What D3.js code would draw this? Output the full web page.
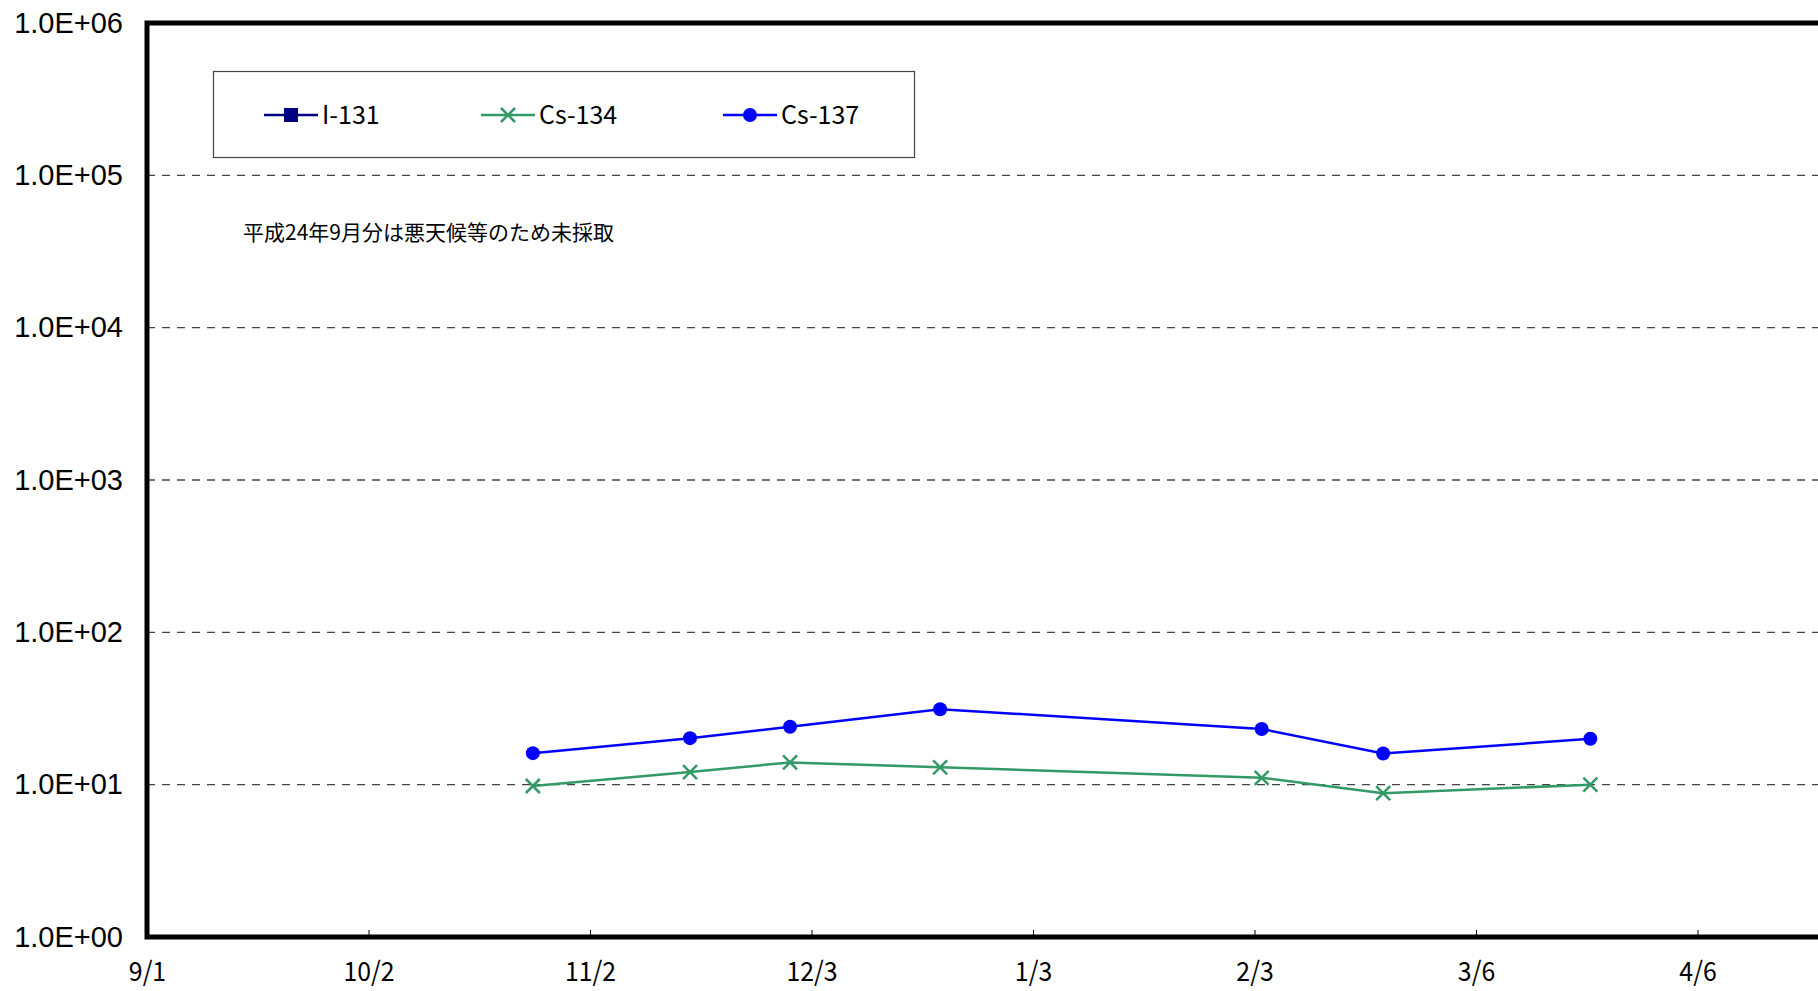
<!DOCTYPE html>
<html>
<head>
<meta charset="utf-8">
<script src="https://cdn.jsdelivr.net/npm/d3@7"></script>
<style>
  body{margin:0;background:#fff;}
  svg{display:block;}
</style>
</head>
<body>
<svg id="svg" width="1818" height="991"></svg>
<script>
// data
var seriesNames = ["I-131","Cs-134","Cs-137"];
var sampleDates = ["2012-10-25","2012-11-16","2012-11-30","2012-12-21","2013-02-04","2013-02-21","2013-03-22"];
var i131 = [];   // not detected
var cs134 = [9.8, 12.1, 14.0, 13.0, 11.1, 8.8, 10.0];
var cs137 = [16.1, 20.2, 24.0, 31.3, 23.2, 16.0, 20.0];
var tickDates = ["2012-09-01","2012-10-02","2012-11-02","2012-12-03","2013-01-03","2013-02-03","2013-03-06","2013-04-06"];
var yTicks = [1, 10, 100, 1000, 10000, 100000, 1000000];
var note = "平成24年9月分は悪天候等のため未採取";

var parse = d3.timeParse("%Y-%m-%d");
var svg = d3.select("#svg");

var plotL = 147, plotT = 23, plotB = 937, plotR = 1819;
var x = d3.scaleTime()
    .domain([parse("2012-09-01"), parse("2013-04-23")])
    .range([plotL, plotR]);
var y = d3.scaleLog()
    .domain([1, 1000000])
    .range([plotB, plotT]);

//Grid lines
svg.append("g").selectAll("line.grid")
    .data(yTicks.slice(1, -1))
    .enter().append("line")
    .attr("class","grid")
    .attr("x1", plotL).attr("x2", 1818)
    .attr("y1", function(d){return y(d);})
    .attr("y2", function(d){return y(d);})
    .attr("stroke","#444")
    .attr("stroke-width",1.3)
    .attr("stroke-dasharray","8,7");

//Y axis labels
var fmt = function(d){
    var e = Math.round(Math.log10(d));
    return "1.0E+" + (e < 10 ? "0" + e : e);
};
var yAxis = d3.axisLeft(y).tickValues(yTicks).tickFormat(fmt).tickSize(0).tickPadding(24);
var yg = svg.append("g").attr("transform","translate(" + plotL + ",0)").call(yAxis);
yg.select(".domain").remove();
yg.selectAll("text")
    .attr("font-family","'Liberation Sans', Arial, sans-serif")
    .attr("font-size","29px")
    .attr("fill","#000");

//X axis
var xAxis = d3.axisBottom(x)
    .tickValues(tickDates.map(parse))
    .tickFormat(d3.timeFormat("%-m/%-d"))
    .tickSize(-7).tickPadding(0);
var xg = svg.append("g").attr("transform","translate(0," + plotB + ")").call(xAxis);
xg.select(".domain").remove();
xg.selectAll(".tick line").attr("stroke","#000").attr("stroke-width",1);
xg.selectAll("text")
    .attr("y", 44)
    .attr("dy", 0)
    .attr("transform","scale(0.92,1)")
    .attr("font-family","'Noto Sans CJK JP', sans-serif")
    .attr("font-size","27px")
    .attr("fill","#000");

//Frame (left, top, bottom)
svg.append("path")
    .attr("d","M1818," + plotT + "H" + plotL + "V" + plotB + "H1818")
    .attr("fill","none")
    .attr("stroke","#000")
    .attr("stroke-width",5);

//Lines
var line = d3.line()
    .x(function(d){return x(d.date);})
    .y(function(d){return y(d.value);});

function pts(vals){
    return vals.map(function(v, i){return {date: parse(sampleDates[i]), value: v};});
}

var series = [
    {name: seriesNames[0], color: "#000080", marker: "square", data: pts(i131)},
    {name: seriesNames[1], color: "#339966", marker: "cross", data: pts(cs134)},
    {name: seriesNames[2], color: "#0000FF", marker: "circle", data: pts(cs137)}
];

function drawMarker(g, type, color){
    if(type == "square"){
        g.append("rect").attr("x",-7).attr("y",-7).attr("width",14).attr("height",14).attr("fill",color);
    }else if(type == "circle"){
        g.append("circle").attr("r",7).attr("fill",color);
    }else{
        g.append("path").attr("d","M-7,-7L7,7M-7,7L7,-7").attr("stroke",color).attr("stroke-width",2.5).attr("fill","none");
    }
}

series.forEach(function(s){
    if(s.data.length == 0) return;
    svg.append("path")
        .datum(s.data)
        .attr("d", line)
        .attr("fill","none")
        .attr("stroke", s.color)
        .attr("stroke-width", 2.5);
    svg.append("g").selectAll("g.pt")
        .data(s.data)
        .enter().append("g")
        .attr("class","pt")
        .attr("transform", function(d){return "translate(" + x(d.date) + "," + y(d.value) + ")";})
        .each(function(){drawMarker(d3.select(this), s.marker, s.color);});
});

//Legend
svg.append("rect")
    .attr("x",213.5).attr("y",71.5).attr("width",701).attr("height",86)
    .attr("fill","#fff").attr("stroke","#444").attr("stroke-width",1.2);
var legendX = [264, 481, 723];
var lg = svg.append("g").selectAll("g.lg")
    .data(series)
    .enter().append("g")
    .attr("class","lg")
    .attr("transform", function(d, i){return "translate(" + legendX[i] + ",115)";});
lg.append("line")
    .attr("x1",0).attr("x2",54)
    .attr("stroke", function(d){return d.color;})
    .attr("stroke-width",2.5);
lg.each(function(d){
    var m = d3.select(this).append("g").attr("transform","translate(27,0)");
    drawMarker(m, d.marker, d.color);
});
lg.append("text")
    .text(function(d){return d.name;})
    .attr("x",58)
    .attr("y",9)
    .attr("font-family","'Noto Sans CJK JP', sans-serif")
    .attr("font-size","25px")
    .attr("fill","#000");

//Note
svg.append("text")
    .text(note)
    .attr("x",243)
    .attr("y",240)
    .attr("font-family","'Noto Sans CJK JP', sans-serif")
    .attr("font-size","21px")
    .attr("fill","#000");
</script>
</body>
</html>
